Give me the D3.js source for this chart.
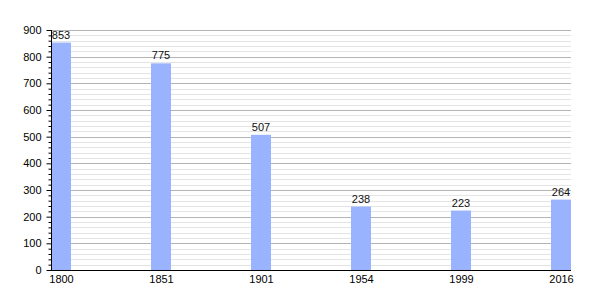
<!DOCTYPE html>
<html>
<head>
<meta charset="utf-8">
<script src="https://cdn.jsdelivr.net/npm/d3@7"></script>
<style>
  body { margin: 0; background: #fff; }
  text { font-family: "Liberation Sans", Arial, sans-serif; }
</style>
</head>
<body>
<div id="chart"></div>
<script>
const years = ['1800', '1851', '1901', '1954', '1999', '2016'];
const population = [853, 775, 507, 238, 223, 264];
const majorTicks = [0, 100, 200, 300, 400, 500, 600, 700, 800, 900];

const width = 600, height = 300;
const plot = { left: 51, right: 571, top: 30, bottom: 270 };

const svg = d3.select("#chart")
  .append("svg")
    .attr("width", width)
    .attr("height", height);

// Scales
const x = d3.scalePoint()
  .domain(years)
  .range([plot.left + 10, plot.right - 10]);

const y = d3.scaleLinear()
  .domain([0, 900])
  .range([plot.bottom, plot.top]);

// minor gridlines every 20
const minorTicks = d3.range(0, 901, 20).filter(v => v % 100 != 0);

svg.append("g")
  .selectAll("line")
  .data(minorTicks)
  .enter()
  .append("line")
    .attr("x1", plot.left)
    .attr("x2", plot.right)
    .attr("y1", d => Math.round(y(d)) + 0.5)
    .attr("y2", d => Math.round(y(d)) + 0.5)
    .attr("stroke", "#e4e4e4")
    .attr("stroke-width", 1);

svg.append("g")
  .selectAll("line")
  .data(majorTicks.filter(d => d > 0))
  .enter()
  .append("line")
    .attr("x1", plot.left)
    .attr("x2", plot.right)
    .attr("y1", d => Math.round(y(d)) + 0.5)
    .attr("y2", d => Math.round(y(d)) + 0.5)
    .attr("stroke", "#b4b4b4")
    .attr("stroke-width", 1);

// Bars
svg.append("g")
  .selectAll("rect")
  .data(population)
  .enter()
  .append("rect")
    .attr("x", (d, i) => x(years[i]) - 10)
    .attr("y", d => y(d))
    .attr("width", 20)
    .attr("height", d => plot.bottom - y(d))
    .attr("fill", "#99b3ff");

// Value labels
svg.append("g")
  .selectAll("text")
  .data(population)
  .enter()
  .append("text")
    .attr("x", (d, i) => x(years[i]))
    .attr("y", d => y(d) - 4)
    .attr("text-anchor", "middle")
    .attr("font-size", "11px")
    .attr("fill", "#111")
    .text(d => d);

// Y axis with minor ticks
const yMinor = svg.append("g")
  .attr("transform", `translate(${plot.left + 0.5},0)`)
  .call(d3.axisLeft(y).tickValues(minorTicks).tickSize(3).tickFormat(""));
yMinor.select(".domain").remove();

const yAxis = svg.append("g")
  .attr("transform", `translate(${plot.left + 0.5},0)`)
  .call(d3.axisLeft(y).tickValues(majorTicks).tickSize(5).tickPadding(5));
yAxis.select(".domain").attr("d", `M0,${plot.top}V${plot.bottom}`);
yAxis.selectAll("text").attr("font-size", "11px").attr("font-family", "Liberation Sans, Arial, sans-serif");

// X axis
const xAxis = svg.append("g")
  .attr("transform", `translate(0,${plot.bottom + 0.5})`)
  .call(d3.axisBottom(x).tickSize(0).tickPadding(5));
xAxis.select(".domain").attr("d", `M${plot.left},0H${plot.right}`);
xAxis.selectAll("text").attr("font-size", "11px").attr("font-family", "Liberation Sans, Arial, sans-serif");
</script>
</body>
</html>
